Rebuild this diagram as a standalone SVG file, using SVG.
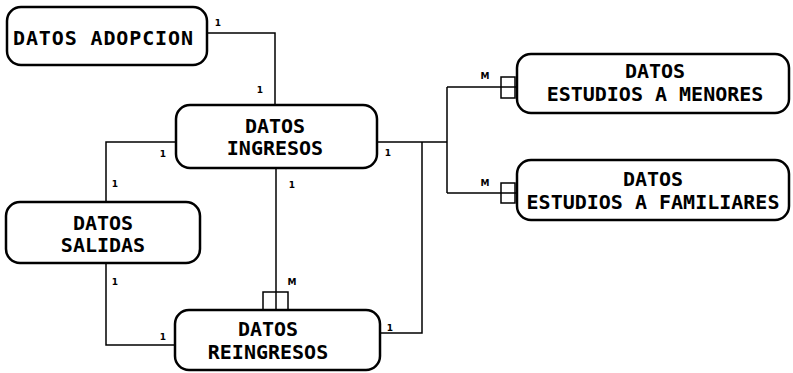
<svg xmlns="http://www.w3.org/2000/svg" width="793" height="373" viewBox="0 0 793 373">
<style>
.box{fill:#fff;stroke:#000;stroke-width:2.5}
.t{font-family:"DejaVu Sans Mono","Liberation Mono",monospace;font-weight:bold;font-size:20px;text-anchor:middle;fill:#000}
.c{fill:none;stroke:#000;stroke-width:1.5}
.l{font-family:"DejaVu Sans","Liberation Sans",sans-serif;font-weight:bold;font-size:9px;text-anchor:middle;fill:#000}
</style>
<rect width="793" height="373" fill="#fff"/>
<g id="connectors">
<path class="c" d="M207,33 H275 V105"/>
<path class="c" d="M176,142 H106 V202"/>
<path class="c" d="M106,263 V345 H175"/>
<path class="c" d="M276,168 V310"/>
<rect class="c" x="263" y="292" width="25" height="18"/>
<path class="c" d="M377,142 H447 M447,87 V193 M447,87 H517 M447,193 H517"/>
<rect class="c" x="501" y="77" width="14" height="21"/>
<rect class="c" x="501" y="183" width="14" height="20"/>
<path class="c" d="M422,142 V333 H380"/>
<text class="l" x="218" y="26">1</text>
<text class="l" x="260" y="93">1</text>
<text class="l" x="163" y="157">1</text>
<text class="l" x="115" y="187">1</text>
<text class="l" x="115" y="285">1</text>
<text class="l" x="163" y="340">1</text>
<text class="l" x="292" y="188">1</text>
<text class="l" x="292" y="285">M</text>
<text class="l" x="388" y="156">1</text>
<text class="l" x="390" y="331">1</text>
<text class="l" x="485" y="79">M</text>
<text class="l" x="485" y="186">M</text>
</g>
<g id="adopcion">
<rect class="box" x="7" y="7" width="200" height="58" rx="14"/>
<text class="t" x="103" y="45" textLength="180" lengthAdjust="spacing">DATOS ADOPCION</text>
</g>
<g id="ingresos">
<rect class="box" x="176" y="105" width="201" height="63" rx="14"/>
<text class="t" x="275" y="133">DATOS</text>
<text class="t" x="275" y="155">INGRESOS</text>
</g>
<g id="salidas">
<rect class="box" x="6" y="202" width="194" height="61" rx="14"/>
<text class="t" x="103" y="230">DATOS</text>
<text class="t" x="103" y="252">SALIDAS</text>
</g>
<g id="reingresos">
<rect class="box" x="175" y="310" width="205" height="60" rx="14"/>
<text class="t" x="268" y="336">DATOS</text>
<text class="t" x="268" y="359">REINGRESOS</text>
</g>
<g id="menores">
<rect class="box" x="517" y="54" width="272" height="59" rx="14"/>
<text class="t" x="655" y="78">DATOS</text>
<text class="t" x="655" y="101">ESTUDIOS A MENORES</text>
</g>
<g id="familiares">
<rect class="box" x="517" y="160" width="272" height="60" rx="14"/>
<text class="t" x="653" y="186">DATOS</text>
<text class="t" x="653" y="209">ESTUDIOS A FAMILIARES</text>
</g>
</svg>
